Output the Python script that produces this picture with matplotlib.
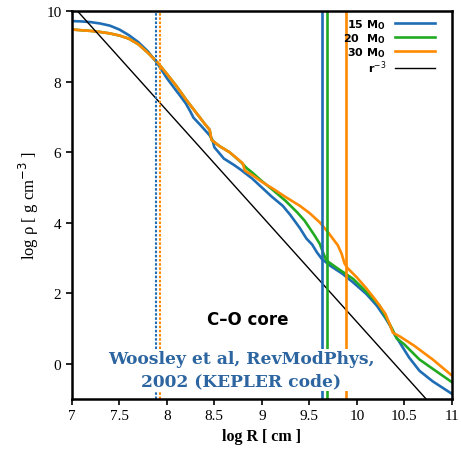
import numpy as np
import matplotlib.pyplot as plt

# density profiles (log R, log rho)
x15 = [7.0, 7.1, 7.2, 7.3, 7.4, 7.5, 7.6, 7.7, 7.8, 7.9, 8.0, 8.1, 8.14, 8.2, 8.25, 8.28,
       8.35, 8.45, 8.48, 8.50, 8.55, 8.6, 8.7, 8.77, 8.9, 9.0, 9.1, 9.22, 9.3, 9.40, 9.47,
       9.53, 9.58, 9.63, 9.72, 9.85, 9.96, 10.1, 10.21, 10.3, 10.35, 10.4, 10.45, 10.55,
       10.66, 10.8, 11.0]
y15 = [9.72, 9.71, 9.69, 9.65, 9.59, 9.48, 9.32, 9.12, 8.86, 8.52, 8.10, 7.74, 7.60, 7.38,
       7.14, 6.98, 6.78, 6.48, 6.35, 6.14, 5.98, 5.82, 5.65, 5.52, 5.25, 5.00, 4.75, 4.48,
       4.22, 3.85, 3.55, 3.38, 3.16, 2.98, 2.78, 2.55, 2.31, 1.98, 1.65, 1.30, 1.08, 0.82,
       0.61, 0.18, -0.20, -0.50, -0.85]

x20 = [7.0, 7.1, 7.2, 7.3, 7.4, 7.5, 7.6, 7.7, 7.8, 7.9, 8.0, 8.1, 8.2, 8.3, 8.4, 8.45,
       8.47, 8.55, 8.66, 8.78, 8.84, 8.9, 9.0, 9.12, 9.25, 9.37, 9.45, 9.51, 9.56, 9.61,
       9.65, 9.68, 9.8, 9.96, 10.1, 10.24, 10.3, 10.37, 10.42, 10.5, 10.66, 11.0]
y20 = [9.48, 9.46, 9.44, 9.41, 9.37, 9.31, 9.22, 9.06, 8.82, 8.55, 8.22, 7.88, 7.50, 7.15,
       6.80, 6.64, 6.35, 6.18, 6.00, 5.72, 5.55, 5.42, 5.18, 4.92, 4.62, 4.30, 4.06, 3.82,
       3.62, 3.40, 3.12, 2.93, 2.70, 2.41, 2.04, 1.65, 1.35, 1.00, 0.72, 0.55, 0.12, -0.52]

x30 = [7.0, 7.1, 7.2, 7.3, 7.4, 7.5, 7.6, 7.7, 7.8, 7.9, 8.0, 8.1, 8.2, 8.3, 8.4, 8.45,
       8.47, 8.55, 8.66, 8.75, 8.80, 8.82, 8.9, 9.0, 9.12, 9.25, 9.4, 9.5, 9.61, 9.7, 9.75,
       9.80, 9.84, 9.87, 9.9, 10.0, 10.1, 10.2, 10.3, 10.35, 10.38, 10.45, 10.6, 10.8, 11.0]
y30 = [9.48, 9.46, 9.44, 9.41, 9.37, 9.31, 9.22, 9.06, 8.82, 8.55, 8.22, 7.88, 7.50, 7.15,
       6.80, 6.64, 6.35, 6.18, 6.00, 5.80, 5.68, 5.48, 5.35, 5.16, 4.96, 4.73, 4.48, 4.28,
       4.01, 3.72, 3.54, 3.36, 3.12, 2.85, 2.72, 2.45, 2.14, 1.80, 1.42, 1.10, 0.88, 0.78,
       0.52, 0.12, -0.33]

# r^-3 reference line
xr = [7.06, 10.73]
yr = [10.0, -1.0]

# core boundaries
fe_core = {'15': 7.884, '30': 7.926}
co_core = {'15': 9.63, '20': 9.685, '30': 9.885}

blue = '#1f6db4'
green = '#22aa22'
orange = '#ff8a00'

fig = plt.figure(figsize=(4.61, 4.52), dpi=100)
ax = fig.add_axes([0.156, 0.115, 0.824, 0.858])

ax.plot(x15, y15, color=blue, lw=1.9, label='15 M$_\\mathregular{O}$')
ax.plot(x20, y20, color=green, lw=1.9, label='20  M$_\\mathregular{O}$')
ax.plot(x30, y30, color=orange, lw=1.9, label='30 M$_\\mathregular{O}$')
ax.plot(xr, yr, color='black', lw=1.0, label='r$^{-3}$')

ax.axvline(fe_core['15'], color=blue, lw=1.5, ls=(0, (1.2, 0.8)))
ax.axvline(fe_core['30'], color=orange, lw=1.5, ls=(0, (1.2, 0.8)))
ax.axvline(co_core['15'], color=blue, lw=1.9)
ax.axvline(co_core['20'], color=green, lw=1.9)
ax.axvline(co_core['30'], color=orange, lw=1.9)

ax.set_xlim(7, 11)
ax.set_ylim(-1, 10)
ax.set_xticks([7, 7.5, 8, 8.5, 9, 9.5, 10, 10.5, 11])
ax.set_xticklabels(['7', '7.5', '8', '8.5', '9', '9.5', '10', '10.5', '11'])
ax.set_yticks([0, 2, 4, 6, 8, 10])
for lab in ax.get_xticklabels() + ax.get_yticklabels():
    lab.set_family('Liberation Serif')
    lab.set_fontsize(11)
ax.tick_params(direction='out', length=4, width=1.2, top=False, right=False)
for s in ax.spines.values():
    s.set_linewidth(1.8)

ax.set_xlabel('log R [ cm ]', family='Liberation Serif', fontweight='bold', fontsize=11.5)
ax.set_ylabel('log ρ [ g cm$^{-3}$ ]', family='Liberation Serif', fontsize=12)

ax.text(8.85, 1.27, 'C–O core', fontsize=12, fontweight='bold', ha='center', va='center')
ax.text(8.78, -0.17, 'Woosley et al, RevModPhys,\n2002 (KEPLER code)', family='DejaVu Serif',
        fontweight='bold', fontsize=12.3, color='#2c65a0', ha='center', va='center',
        linespacing=1.4, bbox=dict(facecolor='white', edgecolor='none', pad=1))

leg = ax.legend(loc='upper right', bbox_to_anchor=(0.967, 0.997), frameon=False,
                markerfirst=False, fontsize=8, handlelength=3.6, labelspacing=0.02,
                borderaxespad=0)
for t in leg.get_texts():
    t.set_fontweight('bold')

fig.savefig('out.png', dpi=100)
